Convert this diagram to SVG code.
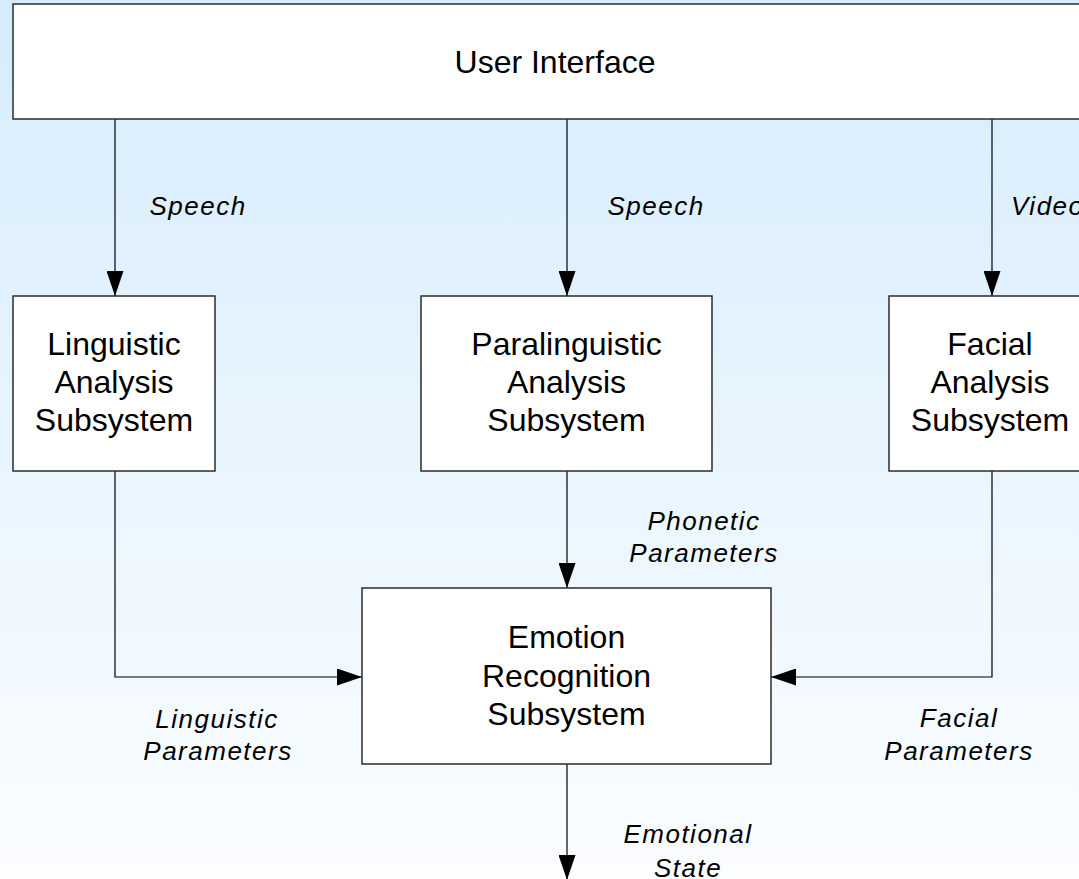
<svg xmlns="http://www.w3.org/2000/svg" width="1079" height="879" viewBox="0 0 1079 879">
  <defs>
    <linearGradient id="bg" x1="0" y1="0" x2="0" y2="1">
      <stop offset="0" stop-color="#d5ecfc"/>
      <stop offset="1" stop-color="#fbfdff"/>
    </linearGradient>
    <marker id="arrow" viewBox="0 0 25 17" refX="25" refY="8.5" markerWidth="25" markerHeight="17" markerUnits="userSpaceOnUse" orient="auto">
      <path d="M0,0 L25,8.5 L0,17 Z" fill="#000"/>
    </marker>
    <style>
      .box { fill: #ffffff; stroke: #2b2b2b; stroke-width: 1.5; }
      .node { font-family: "Liberation Sans", Arial, sans-serif; font-size: 32px; fill: #000; text-anchor: middle; }
      .lbl { font-family: "Liberation Sans", Arial, sans-serif; font-size: 26px; font-style: italic; fill: #000; letter-spacing: 1.5px; }
      .mid { text-anchor: middle; }
      .conn { fill: none; stroke: #000; stroke-width: 1.2; }
    </style>
  </defs>
  <rect x="0" y="0" width="1079" height="879" fill="url(#bg)"/>

  <g id="connectors">
    <line class="conn" x1="115" y1="119" x2="115" y2="296" marker-end="url(#arrow)"/>
    <line class="conn" x1="567" y1="119" x2="567" y2="296" marker-end="url(#arrow)"/>
    <line class="conn" x1="992" y1="119" x2="992" y2="296" marker-end="url(#arrow)"/>
    <line class="conn" x1="567" y1="471" x2="567" y2="588" marker-end="url(#arrow)"/>
    <polyline class="conn" points="115,471 115,677 362,677" marker-end="url(#arrow)"/>
    <polyline class="conn" points="992,471 992,677 771,677" marker-end="url(#arrow)"/>
    <line class="conn" x1="567" y1="764" x2="567" y2="880" marker-end="url(#arrow)"/>
    <text class="lbl mid" x="198" y="215">Speech</text>
    <text class="lbl mid" x="656" y="215">Speech</text>
    <text class="lbl" x="1011" y="215">Video</text>
    <text class="lbl mid" x="704" y="530">Phonetic</text>
    <text class="lbl mid" x="704" y="562">Parameters</text>
    <text class="lbl mid" x="217" y="728">Linguistic</text>
    <text class="lbl mid" x="218" y="760">Parameters</text>
    <text class="lbl mid" x="959" y="727">Facial</text>
    <text class="lbl mid" x="959" y="760">Parameters</text>
    <text class="lbl mid" x="688" y="843">Emotional</text>
    <text class="lbl mid" x="688" y="877">State</text>
  </g>

  <g id="user-interface">
    <rect class="box" x="13" y="4" width="1084" height="115"/>
    <text class="node" x="555" y="73">User Interface</text>
  </g>

  <g id="linguistic">
    <rect class="box" x="13" y="296" width="202" height="175"/>
    <text class="node" x="114" y="355">Linguistic</text>
    <text class="node" x="114" y="393">Analysis</text>
    <text class="node" x="114" y="431">Subsystem</text>
  </g>

  <g id="paralinguistic">
    <rect class="box" x="421" y="296" width="291" height="175"/>
    <text class="node" x="566.5" y="355">Paralinguistic</text>
    <text class="node" x="566.5" y="393">Analysis</text>
    <text class="node" x="566.5" y="431">Subsystem</text>
  </g>

  <g id="facial">
    <rect class="box" x="889" y="296" width="202" height="175"/>
    <text class="node" x="990" y="355">Facial</text>
    <text class="node" x="990" y="393">Analysis</text>
    <text class="node" x="990" y="431">Subsystem</text>
  </g>

  <g id="emotion">
    <rect class="box" x="362" y="588" width="409" height="176"/>
    <text class="node" x="566.5" y="648">Emotion</text>
    <text class="node" x="566.5" y="687">Recognition</text>
    <text class="node" x="566.5" y="725">Subsystem</text>
  </g>
</svg>
